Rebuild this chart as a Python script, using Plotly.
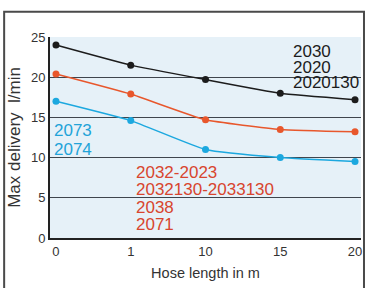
import plotly.graph_objects as go

hose_length = ["0", "1", "10", "15", "20"]
black_series = [24.0, 21.5, 19.7, 18.0, 17.2]
orange_series = [20.4, 17.9, 14.7, 13.5, 13.2]
blue_series = [17.0, 14.6, 11.0, 10.0, 9.5]

black_labels = ["2030", "2020", "2020130"]
blue_labels = ["2073", "2074"]
orange_labels = ["2032-2023", "2032130-2033130", "2038", "2071"]
y_ticks = [0, 5, 10, 15, 20, 25]

FONT = "Liberation Sans, Arial, sans-serif"
BLACK = "#1c1c1c"
ORANGE = "#e8572c"
ORANGE_TXT = "#d8452e"
BLUE = "#1ca8df"
BLUE_TXT = "#22a3d8"

fig = go.Figure()
for vals, col in [(black_series, BLACK), (orange_series, ORANGE), (blue_series, BLUE)]:
    fig.add_trace(go.Scatter(
        x=hose_length, y=vals, mode="lines+markers",
        line=dict(color=col, width=1.5, shape="spline", smoothing=0.4),
        marker=dict(color=col, size=7),
        cliponaxis=False, showlegend=False, hoverinfo="skip"))

W, H = 371, 288
L, R, T, B = 50, 9, 37, 45
pw, ph = W - L - R, H - T - B

def px(x):
    return (x - L) / pw

def py(y):
    return (H - B - y) / ph

anns = []
for i, t in enumerate(black_labels):
    anns.append(dict(text=t, x=px(293), y=py(52 + 16 * i), xref="paper", yref="paper",
                     xanchor="left", yanchor="middle", showarrow=False, borderpad=0,
                     font=dict(family=FONT, size=17, color=BLACK)))
for i, t in enumerate(blue_labels):
    anns.append(dict(text=t, x=px(53), y=py(133 + 19 * i), xref="paper", yref="paper",
                     xanchor="left", yanchor="middle", showarrow=False, borderpad=0,
                     font=dict(family=FONT, size=17, color=BLUE_TXT)))
for i, t in enumerate(orange_labels):
    anns.append(dict(text=t, x=px(135), y=py(176 + 17.7 * i), xref="paper", yref="paper",
                     xanchor="left", yanchor="middle", showarrow=False, borderpad=0,
                     font=dict(family=FONT, size=17, color=ORANGE_TXT)))

shapes = [
    dict(type="rect", xref="paper", yref="paper", x0=px(4), x1=px(365), y0=py(300), y1=py(11),
         line=dict(color="#4a4a4a", width=2), fillcolor="rgba(0,0,0,0)", layer="below"),
]

fig.update_layout(
    width=W, height=H,
    margin=dict(l=L, r=R, t=T, b=B),
    paper_bgcolor="white",
    plot_bgcolor="#e6f1f8",
    font=dict(family=FONT, color="#333"),
    annotations=anns,
    shapes=shapes,
    xaxis=dict(type="category", categoryorder="array", categoryarray=hose_length,
               range=[-0.08, 4.08], showgrid=False, zeroline=False,
               showline=True, linecolor="#222", linewidth=2,
               ticks="", tickfont=dict(size=13, color="#333"),
               title=dict(text="Hose length in m", font=dict(size=14.5, color="#333"), standoff=10)),
    yaxis=dict(range=[0, 25], tickvals=y_ticks, showgrid=True, gridcolor="#3f454d", gridwidth=1.4,
               zeroline=False, showline=True, linecolor="#222", linewidth=2,
               ticks="", tickfont=dict(size=13, color="#333"),
               title=dict(text="Max delivery  l/min", font=dict(size=17, color="#333"), standoff=6)),
)

fig.write_html("out.html", config={"displayModeBar": False},
               post_script="document.body.style.margin='0';document.body.style.overflow='hidden';")
